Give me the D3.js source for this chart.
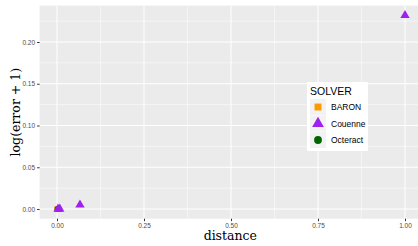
<!DOCTYPE html>
<html>
<head>
<meta charset="utf-8">
<script src="https://cdn.jsdelivr.net/npm/d3@7"></script>
<style>
  body { margin: 0; background: #fff; }
  text { font-family: "Liberation Sans", Arial, sans-serif; }
</style>
</head>
<body>
<div id="chart"></div>
<script>
// values
var solvers = ["BARON", "Couenne", "Octeract"];
var colors = ["#FF9900", "#A020F0", "#006400"];
var shapes = [d3.symbolSquare, d3.symbolTriangle, d3.symbolCircle];

var baronDist = [0.0, 0.005];
var baronErr = [0.0, 0.0];
var couenneDist = [0.003, 0.008, 0.066, 1.0];
var couenneErr = [0.0, 0.0, 0.005, 0.232];
var octeractDist = [0.002, 0.004];
var octeractErr = [0.0, 0.0];

var xTicks = [0, 0.25, 0.5, 0.75, 1.0];
var yTicks = [0, 0.05, 0.10, 0.15, 0.20];

var W = 418, H = 246;
var svg = d3.select("#chart").append("svg").attr("width", W).attr("height", H);

var x = d3.scaleLinear().domain([-0.05, 1.05]).range([39.6, 422.4]);
var y = d3.scaleLinear().domain([-0.0116, 0.2436]).range([218.7, 5.6]);

var px0 = 39.6, px1 = 418, py0 = 5.6, py1 = 218.7;

svg.append("rect")
    .attr("x", px0).attr("y", py0)
    .attr("width", px1 - px0).attr("height", py1 - py0)
    .attr("fill", "#EBEBEB");

var g = svg.append("g");

// minor grid
var xMinor = [0.125, 0.375, 0.625, 0.875];
var yMinor = [0.025, 0.075, 0.125, 0.175, 0.225];
g.selectAll(".xminor").data(xMinor).enter().append("line")
    .attr("x1", d => x(d)).attr("x2", d => x(d))
    .attr("y1", py0).attr("y2", py1)
    .attr("stroke", "#fff").attr("stroke-width", 0.5);
g.selectAll(".yminor").data(yMinor).enter().append("line")
    .attr("x1", px0).attr("x2", px1)
    .attr("y1", d => y(d)).attr("y2", d => y(d))
    .attr("stroke", "#fff").attr("stroke-width", 0.5);

// major grid
g.selectAll(".xmajor").data(xTicks).enter().append("line")
    .attr("x1", d => x(d)).attr("x2", d => x(d))
    .attr("y1", py0).attr("y2", py1)
    .attr("stroke", "#fff").attr("stroke-width", 1);
g.selectAll(".ymajor").data(yTicks).enter().append("line")
    .attr("x1", px0).attr("x2", px1)
    .attr("y1", d => y(d)).attr("y2", d => y(d))
    .attr("stroke", "#fff").attr("stroke-width", 1);

// axes
var xAxis = d3.axisBottom(x).tickValues(xTicks).tickSize(2.5).tickPadding(2)
    .tickFormat(d3.format(".2f"));
var yAxis = d3.axisLeft(y).tickValues(yTicks).tickSize(2.5).tickPadding(2)
    .tickFormat(d3.format(".2f"));

var gx = svg.append("g").attr("transform", "translate(0," + py1 + ")").call(xAxis);
var gy = svg.append("g").attr("transform", "translate(" + px0 + ",0)").call(yAxis);
[gx, gy].forEach(function(a) {
    a.select(".domain").remove();
    a.selectAll(".tick line").attr("stroke", "#333");
    a.selectAll(".tick text").attr("fill", "#4D4D4D").attr("font-size", 6.5)
        .attr("font-family", "Liberation Sans, Arial, sans-serif");
});

// axis titles
svg.append("text")
    .attr("x", (px0 + 405) / 2 + 8).attr("y", 240)
    .attr("text-anchor", "middle")
    .attr("font-size", 12.5)
    .style("font-family", "'DejaVu Serif', serif")
    .text("distance");

svg.append("text")
    .attr("transform", "translate(20," + ((py0 + py1) / 2) + ") rotate(-90)")
    .attr("text-anchor", "middle")
    .attr("font-size", 12.5)
    .style("font-family", "'DejaVu Serif', serif")
    .text("log(error + 1)");

// points
function drawPoints(dist, err, i) {
    var pts = dist.map((d, k) => [d, err[k]]);
    svg.append("g").selectAll("path").data(pts).enter().append("path")
        .attr("transform", d => "translate(" + x(d[0]) + "," + y(d[1]) + ")")
        .attr("d", d3.symbol().type(shapes[i]).size(i === 1 ? 38 : 30))
        .attr("fill", colors[i]);
}
drawPoints(baronDist, baronErr, 0);
drawPoints(octeractDist, octeractErr, 2);
drawPoints(couenneDist, couenneErr, 1);

// legend
var lg = svg.append("g").attr("transform", "translate(307,82)");
lg.append("rect").attr("width", 61).attr("height", 69).attr("fill", "#fff");
lg.append("text").attr("x", 3).attr("y", 13).attr("font-size", 10.5)
    .attr("fill", "#000").text("SOLVER");
var items = lg.selectAll(".item").data(solvers).enter().append("g")
    .attr("transform", (d, i) => "translate(0," + (24 + i * 16.5) + ")");
items.append("rect").attr("x", 3).attr("y", -7).attr("width", 16).attr("height", 16)
    .attr("fill", "#F2F2F2");
items.append("path")
    .attr("transform", "translate(11,1)")
    .attr("d", (d, i) => d3.symbol().type(shapes[i]).size(i === 1 ? 60 : 48)())
    .attr("fill", (d, i) => colors[i]);
items.append("text").attr("x", 24).attr("y", 4).attr("font-size", 8.5)
    .attr("fill", "#000").text(d => d);
</script>
</body>
</html>
